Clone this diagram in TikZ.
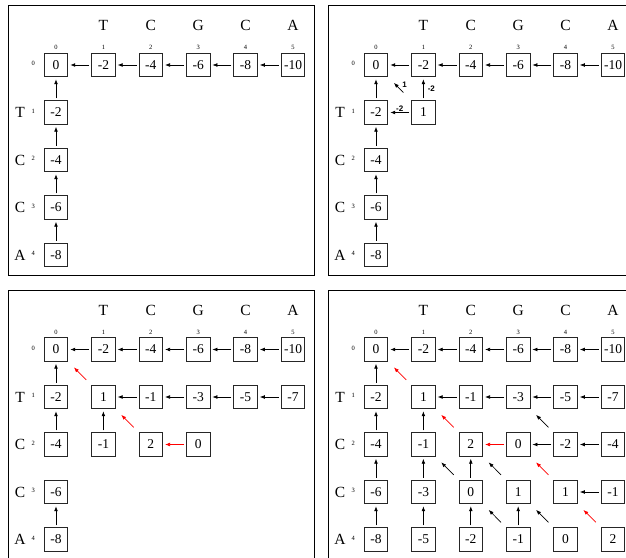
\documentclass[tikz,border=0pt]{standalone}
\usepackage{fontspec}
\setmainfont{Liberation Serif}
\setsansfont{Liberation Sans}
\usetikzlibrary{arrows.meta}

\begin{document}
\begin{tikzpicture}[x=1pt, y=-1pt,
	cell/.style={draw=black!85, line width=0.9pt, minimum size=23.5pt, inner sep=0pt, font=\fontsize{13.5}{14}\selectfont},
	seq/.style={inner sep=0pt, font=\fontsize{15.5}{16}\selectfont},
	idx/.style={inner sep=0pt, font=\fontsize{6.5}{7}\selectfont},
	frame/.style={draw, line width=0.7pt},
	back/.style={-{Latex[length=5pt, width=3.8pt]}, line width=0.7pt, shorten <=2pt, shorten >=2pt},
	diag/.style={back, shorten <=7pt, shorten >=8pt},
	best/.style={red},
	score/.style={inner sep=1pt, font=\sffamily\bfseries\fontsize{8}{8}\selectfont}]
\useasboundingbox (0,0) rectangle (626,557);
\clip (0,0) rectangle (626,557);
% wspolna czesc czterech tablic
\foreach \p/\dx/\dy in {a/8/5.5, b/328/5.5, c/8/290, d/328/290}
{
\begin{scope}[shift={(\dx,\dy)}]
\draw[frame] (0,0) rectangle (306,269.5);
\foreach \ch [count=\j] in {T,C,G,C,A}
	\node[seq] (\p-top-\j) at (48+47.4*\j,20.2) {\ch};
\foreach \ch [count=\i] in {T,C,C,A}
	\node[seq] (\p-left-\i) at (12,59.5+47.5*\i) {\ch};
\foreach \j in {0,...,5}
	\node[idx] (\p-ci-\j) at (48+47.4*\j,42.2) {\j};
\foreach \i in {0,...,4}
	\node[idx] (\p-ri-\i) at (25.3,58+47.5*\i) {\i};
\foreach \v [count=\j from 0] in {0,-2,-4,-6,-8,-10}
	\node[cell] (\p-0-\j) at (48+47.4*\j,59.5) {\v};
\foreach \v [count=\i] in {-2,-4,-6,-8}
	\node[cell] (\p-\i-0) at (48,59.5+47.5*\i) {\v};
\foreach \j [evaluate=\j as \k using int(\j-1)] in {1,...,5}
	\draw[back] (\p-0-\j) -- (\p-0-\k);
\foreach \i [evaluate=\i as \k using int(\i-1)] in {1,2,4}
	\draw[back] (\p-\i-0) -- (\p-\k-0);
\end{scope}
}
\foreach \p in {a,b,d}
	\draw[back] (\p-3-0) -- (\p-2-0);
% tablica b
\node[cell] (b-1-1) at (b-1-0 -| b-0-1) {1};
\draw[back] (b-1-1) -- node[score, right=3pt] (b-s-up) {-2} (b-0-1);
\draw[back] (b-1-1) -- node[score, above=0pt] (b-s-left) {-2} (b-1-0);
\draw[diag, shorten <=11pt] (b-1-1.north west) -- node[score, xshift=5pt, yshift=4pt] (b-s-diag) {1} (b-0-0.south east);
% tablica c
\foreach \row [count=\i] in {{1,-1,-3,-5,-7},{-1,2,0}}
	\foreach \v [count=\j] in \row
		\node[cell] (c-\i-\j) at (c-\i-0 -| c-0-\j) {\v};
\foreach \a/\b in {2-1/1-1, 1-2/1-1, 1-3/1-2, 1-4/1-3, 1-5/1-4}
	\draw[back] (c-\a) -- (c-\b);
\draw[back, best] (c-2-3) -- (c-2-2);
\foreach \a/\b in {1-1/0-0, 2-2/1-1}
	\draw[diag, best] (c-\a.north west) -- (c-\b.south east);
% tablica d
\foreach \row [count=\i] in {{1,-1,-3,-5,-7},{-1,2,0,-2,-4},{-3,0,1,1,-1},{-5,-2,-1,0,2}}
	\foreach \v [count=\j] in \row
		\node[cell] (d-\i-\j) at (d-\i-0 -| d-0-\j) {\v};
\foreach \a/\b in {2-1/1-1, 3-1/2-1, 4-1/3-1, 3-2/2-2, 4-2/3-2, 4-3/3-3,
		1-2/1-1, 1-3/1-2, 1-4/1-3, 1-5/1-4, 2-4/2-3, 2-5/2-4, 3-5/3-4}
	\draw[back] (d-\a) -- (d-\b);
\draw[back, best] (d-2-3) -- (d-2-2);
\foreach \a/\b in {2-4/1-3, 3-2/2-1, 3-3/2-2, 4-3/3-2, 4-4/3-3}
	\draw[diag] (d-\a.north west) -- (d-\b.south east);
\foreach \a/\b in {1-1/0-0, 2-2/1-1, 3-4/2-3, 4-5/3-4}
	\draw[diag, best] (d-\a.north west) -- (d-\b.south east);
\end{tikzpicture}
\end{document}
